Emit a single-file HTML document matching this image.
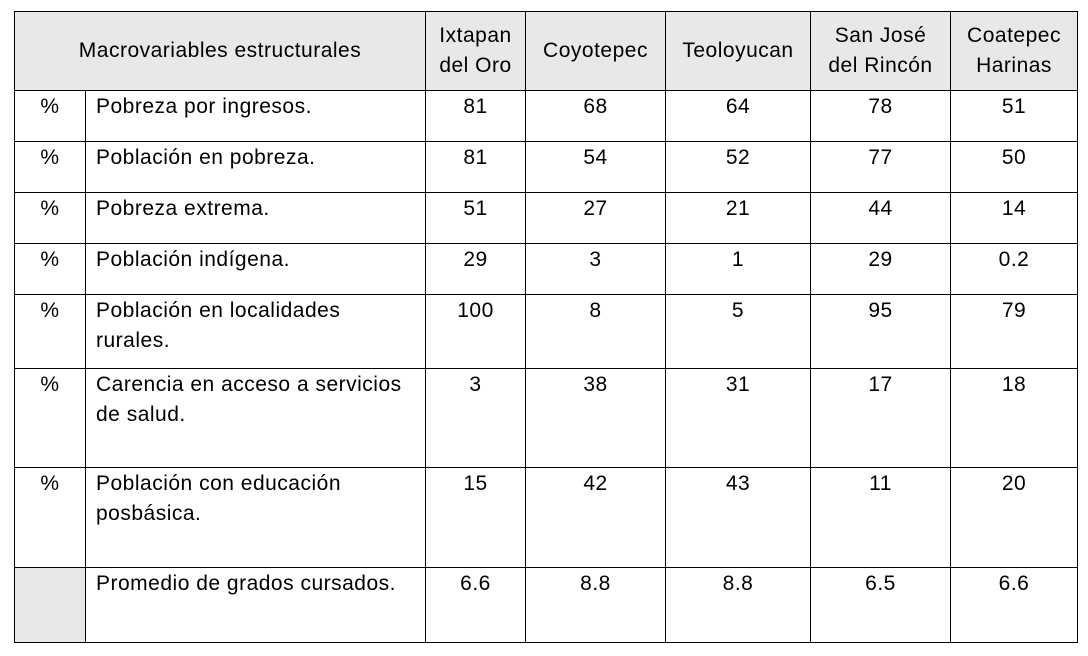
<!DOCTYPE html>
<html><head><meta charset="utf-8"><style>
body{margin:0;background:#fff;width:1088px;height:656px;overflow:hidden;font-family:"Liberation Sans",sans-serif;}
table{position:absolute;left:14px;top:11px;border-collapse:collapse;table-layout:fixed;font-size:21px;letter-spacing:0.5px;color:#000;}
td,th{border:1.3px solid #000;padding:0;line-height:30px;vertical-align:top;font-weight:normal;}
th{background:#e8e8e8;vertical-align:middle;text-align:center;}
td{padding-top:1px;}
td.c{text-align:center;}
td.l{padding-left:10px;padding-right:4px;}
</style></head><body>
<table>
<colgroup><col style="width:71px"><col style="width:340px"><col style="width:100px"><col style="width:140px"><col style="width:145px"><col style="width:140px"><col style="width:127px"></colgroup>
<tr style="height:79px">
<th colspan="2">Macrovariables estructurales</th>
<th>Ixtapan<br>del Oro</th>
<th>Coyotepec</th>
<th>Teoloyucan</th>
<th>San José<br>del Rincón</th>
<th>Coatepec<br>Harinas</th>
</tr>
<tr style="height:51px"><td class="c">%</td><td class="l">Pobreza por ingresos.</td><td class="c">81</td><td class="c">68</td><td class="c">64</td><td class="c">78</td><td class="c">51</td></tr>
<tr style="height:51px"><td class="c">%</td><td class="l">Población en pobreza.</td><td class="c">81</td><td class="c">54</td><td class="c">52</td><td class="c">77</td><td class="c">50</td></tr>
<tr style="height:51px"><td class="c">%</td><td class="l">Pobreza extrema.</td><td class="c">51</td><td class="c">27</td><td class="c">21</td><td class="c">44</td><td class="c">14</td></tr>
<tr style="height:51px"><td class="c">%</td><td class="l">Población indígena.</td><td class="c">29</td><td class="c">3</td><td class="c">1</td><td class="c">29</td><td class="c">0.2</td></tr>
<tr style="height:74px"><td class="c">%</td><td class="l">Población en localidades<br>rurales.</td><td class="c">100</td><td class="c">8</td><td class="c">5</td><td class="c">95</td><td class="c">79</td></tr>
<tr style="height:99px"><td class="c">%</td><td class="l">Carencia en acceso a servicios<br>de salud.</td><td class="c">3</td><td class="c">38</td><td class="c">31</td><td class="c">17</td><td class="c">18</td></tr>
<tr style="height:100px"><td class="c">%</td><td class="l">Población con educación<br>posbásica.</td><td class="c">15</td><td class="c">42</td><td class="c">43</td><td class="c">11</td><td class="c">20</td></tr>
<tr style="height:75px"><td style="background:#e8e8e8"></td><td class="l">Promedio de grados cursados.</td><td class="c">6.6</td><td class="c">8.8</td><td class="c">8.8</td><td class="c">6.5</td><td class="c">6.6</td></tr>
</table>
</body></html>
